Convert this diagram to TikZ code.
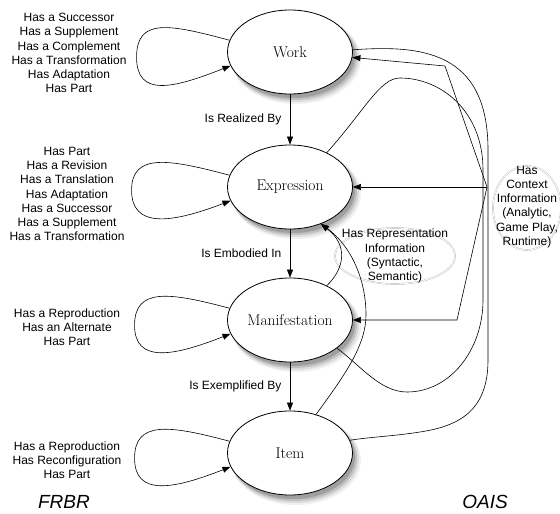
\documentclass[tikz,border=0pt]{standalone}
\usepackage{fontspec}
\setsansfont{Liberation Sans}
\usetikzlibrary{shapes.geometric,arrows.meta}
\pgfdeclarelayer{back}
\pgfsetlayers{back,main}

\tikzstyle{entity} = [ellipse, draw, line width=0.8pt, fill=white, minimum width=125pt, minimum height=84pt, inner sep=0pt, font=\fontsize{15.5}{18}\selectfont]
\tikzstyle{rel} = [font=\sffamily\fontsize{12}{14.2}\selectfont, align=center]
\tikzstyle{link} = [draw, line width=0.6pt, -{Triangle[length=8pt,width=6pt]}]
\tikzstyle{curve} = [draw, line width=0.6pt]
\tikzstyle{ring} = [draw=gray!55, double=white, double distance=0.8pt, line width=0.4pt]
\tikzstyle{tag} = [font=\sffamily\itshape\fontsize{19}{22}\selectfont]

\newcommand{\softshadow}[1]{%
	\fill[gray!12] ([xshift=6pt,yshift=-7pt]#1.center) ellipse (65pt and 45pt);
	\fill[gray!28] ([xshift=5pt,yshift=-6pt]#1.center) ellipse (64pt and 44pt);
	\fill[gray!50] ([xshift=4pt,yshift=-5pt]#1.center) ellipse (63pt and 43pt);
	\fill[gray!75] ([xshift=3pt,yshift=-4pt]#1.center) ellipse (62pt and 42pt);}

\begin{document}
\begin{tikzpicture}[x=1pt, y=-1pt]
	\useasboundingbox (0,0) rectangle (560,514);
	% FRBR entities
	\node[entity] (work) at (290,52) {Work};
	\node[entity] (expression) at (290,187) {Expression};
	\node[entity] (manifestation) at (290,320) {Manifestation};
	\node[entity] (item) at (290,453) {Item};
	\begin{pgfonlayer}{back}
		\softshadow{work}
		\softshadow{expression}
		\softshadow{manifestation}
		\softshadow{item}
	\end{pgfonlayer}
	\draw[link] (work) -- node[rel, left, xshift=-5pt] {Is Realized By} (expression);
	\draw[link] (expression) -- node[rel, left, xshift=-5pt] {Is Embodied In} (manifestation);
	\draw[link] (manifestation) -- node[rel, left, xshift=-5pt] {Is Exemplified By} (item);
	% self relations
	\draw[link] (work.169) .. controls +(-60,-16) and +(0,-40) .. ++(-93,17) .. controls +(0,40) and +(-58,23) .. (work.193);
	\draw[link] (expression.169) .. controls +(-60,-16) and +(0,-38) .. ++(-98,15) .. controls +(0,38) and +(-60,23) .. (expression.193);
	\draw[link] (manifestation.169) .. controls +(-60,-16) and +(0,-38) .. ++(-95,17) .. controls +(0,38) and +(-58,23) .. (manifestation.193);
	\draw[link] (item.169) .. controls +(-60,-16) and +(0,-38) .. ++(-95,17) .. controls +(0,38) and +(-58,23) .. (item.193);
	\node[rel] (worklist) at (69,53) {Has a Successor\\Has a Supplement\\Has a Complement\\Has a Transformation\\Has Adaptation\\Has Part};
	\node[rel] (exprlist) at (67,194) {Has Part\\Has a Revision\\Has a Translation\\Has Adaptation\\Has a Successor\\Has a Supplement\\Has a Transformation};
	\node[rel] (maniflist) at (67,327) {Has a Reproduction\\Has an Alternate\\Has Part};
	\node[rel] (itemlist) at (67,460) {Has a Reproduction\\Has Reconfiguration\\Has Part};
	% OAIS side
	\draw[ring] (395,256) ellipse [x radius=60pt, y radius=28pt];
	\node[rel] (repinfo) at (395,256) {Has Representation\\Information\\(Syntactic,\\Semantic)};
	\draw[ring] (527,208) ellipse [x radius=34pt, y radius=42pt];
	\node[rel] (context) at (527,207) {Has\\Context\\Information\\(Analytic,\\Game Play,\\Runtime)};
	\coordinate (hub) at (487,187);
	\draw[link] (hub) -- (445,66) -- (work.-5);
	\draw[link] (hub) -- (expression.east);
	\draw[link] (hub) -- (457,320) -- (manifestation.east);
	\draw[curve] (work.2) .. controls (420,45) and (488,50) .. (488,150) -- (488,360) .. controls (488,410) and (460,426) .. (420,432) .. controls (395,436) and (370,437) .. (item.12);
	\draw[curve] (expression.43) .. controls (365,110) and (380,78) .. (400,78) .. controls (440,78) and (483,110) .. (483,170) -- (483,300) .. controls (483,350) and (450,392) .. (407,392) .. controls (380,392) and (360,365) .. (manifestation.-31);
	\draw[link] (manifestation.43) .. controls (345,268) and (348,245) .. (expression.-50);
	\draw[link] (item.56) .. controls (345,375) and (366,345) .. (366,315) .. controls (366,278) and (350,245) .. (expression.-50);
	\node[tag] (frbr) at (64,502) {FRBR};
	\node[tag] (oais) at (485,502) {OAIS};
\end{tikzpicture}
\end{document}
